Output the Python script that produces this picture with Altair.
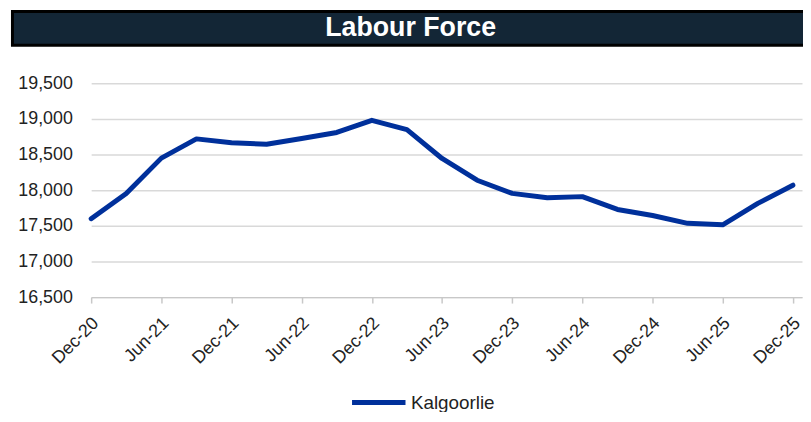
import altair as alt
import pandas as pd

# ---- data ----
quarters = ["Dec-20", "Mar-21", "Jun-21", "Sep-21", "Dec-21", "Mar-22", "Jun-22",
            "Sep-22", "Dec-22", "Mar-23", "Jun-23", "Sep-23", "Dec-23", "Mar-24",
            "Jun-24", "Sep-24", "Dec-24", "Mar-25", "Jun-25", "Sep-25", "Dec-25"]
kalgoorlie = [17600, 17955, 18450, 18720, 18665, 18645, 18725,
              18810, 18980, 18850, 18445, 18140, 17955, 17895,
              17910, 17730, 17645, 17535, 17515, 17815, 18070]
tick_labels = ["Dec-20", "Jun-21", "Dec-21", "Jun-22", "Dec-22", "Jun-23",
               "Dec-23", "Jun-24", "Dec-24", "Jun-25", "Dec-25"]
y_ticks = [16500, 17000, 17500, 18000, 18500, 19000, 19500]
series_name = "Kalgoorlie"
chart_title = "Labour Force"

df = pd.DataFrame({
    "idx": list(range(len(quarters))),
    "quarter": quarters,
    "value": kalgoorlie,
    "series": [series_name] * len(quarters),
})

label_expr = "[" + ",".join(f"'{l}'" for l in tick_labels) + "][round(datum.value/2)]"

FONT = "Liberation Sans"
TEXT = "#222222"

line = alt.Chart(df).mark_line(strokeWidth=5, strokeCap="round", strokeJoin="round").encode(
    x=alt.X("idx:Q",
            scale=alt.Scale(domain=[0, 20.26], nice=False, zero=False),
            axis=alt.Axis(values=list(range(0, 21, 2)), labelExpr=label_expr,
                          labelAngle=-45, labelAlign="right", labelBaseline="top",
                          grid=False, domainColor="#c8c8c8", domainWidth=1.5,
                          tickColor="#c8c8c8", tickWidth=1.5, tickSize=6,
                          labelPadding=11, labelOffset=-2, labelFontSize=18,
                          labelFont=FONT, labelColor=TEXT, labelBound=False,
                          labelOverlap=False, title=None)),
    y=alt.Y("value:Q",
            scale=alt.Scale(domain=[16500, 19500], nice=False, zero=False),
            axis=alt.Axis(values=y_ticks, format=",.0f", grid=True, gridColor="#d9d9d9",
                          gridWidth=1.5, domain=False, ticks=False, labelPadding=19,
                          labelFontSize=18, labelFont=FONT, labelColor=TEXT, title=None)),
    color=alt.Color("series:N", scale=alt.Scale(range=["#00309b"]),
                    legend=alt.Legend(orient="none", legendX=261, legendY=293,
                                      title=None, symbolType="stroke", symbolSize=2916,
                                      symbolStrokeWidth=5, labelFontSize=19,
                                      labelFont=FONT, labelColor=TEXT, labelOffset=3,
                                      padding=0)),
)

title_df = pd.DataFrame({"t": [chart_title]})
bar = alt.Chart(title_df).mark_rect(fill="#132636", stroke="black", strokeWidth=3).encode(
    x=alt.value(-79.5), x2=alt.value(740), y=alt.value(-72.5), y2=alt.value(-38.5)
)
title_text = alt.Chart(title_df).mark_text(
    font=FONT, fontSize=27, fontWeight="bold", color="white",
    align="center", baseline="alphabetic"
).encode(x=alt.value(322.7), y=alt.value(-47.7), text="t:N")

chart = alt.layer(line, bar, title_text).properties(
    width=718, height=216,
    padding={"left": 84, "top": 74, "right": 1, "bottom": 114},
    autosize=alt.AutoSizeParams(type="none"),
).configure_view(stroke=None)

chart.save("out.html", embed_options={"renderer": "svg", "actions": False})
